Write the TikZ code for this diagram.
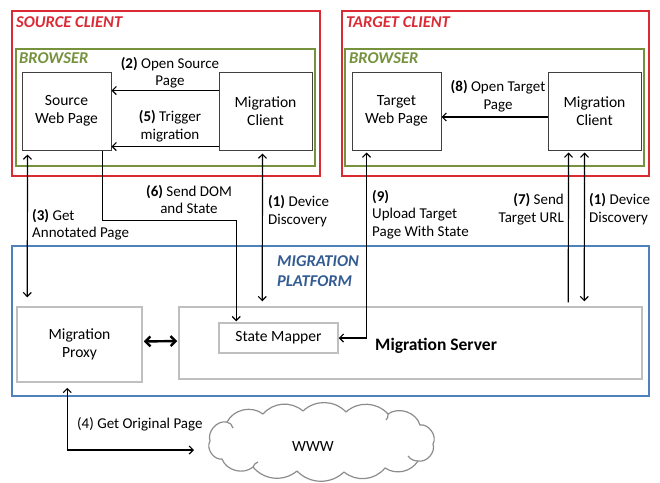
\documentclass[tikz,border=0pt]{standalone}
\usepackage{fontspec}
\setmainfont{Carlito}
\usetikzlibrary{arrows.meta}
\definecolor{cred}{RGB}{218,42,52}
\definecolor{cgreen}{RGB}{118,146,60}
\definecolor{cblue}{RGB}{79,129,189}
\definecolor{ctblue}{RGB}{50,92,146}
\definecolor{cgray}{RGB}{191,191,191}
\definecolor{cdark}{RGB}{64,64,64}
\definecolor{ccloud}{RGB}{140,140,140}
\tikzset{
  redbox/.style={draw=cred, line width=1.3pt, inner sep=0pt},
  greenbox/.style={draw=cgreen, line width=1.3pt, inner sep=0pt},
  bluebox/.style={draw=cblue, line width=1.3pt, inner sep=0pt},
  pagebox/.style={draw=cdark, line width=1pt, fill=white, inner sep=0pt, align=center, font=\fontsize{15.6}{18}\selectfont},
  graybox/.style={draw=cgray, line width=1.5pt, fill=white, inner sep=0pt, align=center, font=\fontsize{15.6}{18}\selectfont},
  titletext/.style={inner sep=0pt, anchor=west, font=\fontsize{16.5}{20}\selectfont\bfseries\itshape},
  lbl/.style={inner sep=0pt, font=\fontsize{15}{17.5}\selectfont},
  conn/.style={line width=1.2pt, black, arrows={-}, >={Straight Barb[length=4pt,width=8pt,line width=1.2pt]}},
  puff/.style={draw=ccloud, line width=1.2pt, line join=round},
}
\begin{document}
\begin{tikzpicture}[x=1pt,y=-1pt]
\useasboundingbox (0,0) rectangle (660,482);
% client frames
\node[redbox, minimum width=308, minimum height=165] (srcclient) at (166,93.5) {};
\node[redbox, minimum width=307, minimum height=165] (tgtclient) at (495.5,93.5) {};
\node[titletext, text=cred] (srct) at (16,22) {SOURCE CLIENT};
\node[titletext, text=cred] (tgtt) at (346,22) {TARGET CLIENT};
\node[greenbox, minimum width=299, minimum height=117] (srcbrowser) at (165.5,107.5) {};
\node[greenbox, minimum width=299, minimum height=117] (tgtbrowser) at (494.5,107.5) {};
\node[titletext, text=cgreen] (srcbt) at (19,58) {BROWSER};
\node[titletext, text=cgreen] (tgtbt) at (349,58) {BROWSER};
\node[pagebox, minimum width=89, minimum height=78] (swp) at (66.5,111) {Source\\Web Page};
\node[pagebox, minimum width=93, minimum height=78] (mc1) at (265.5,111) {Migration\\Client};
\node[pagebox, minimum width=89, minimum height=78] (twp) at (396.5,111) {Target\\Web Page};
\node[pagebox, minimum width=93, minimum height=78] (mc2) at (594.5,111) {Migration\\Client};
% platform
\node[bluebox, minimum width=637, minimum height=150] (platform) at (330.5,321) {};
\node[titletext, text=ctblue, align=left] (platt) at (277,271) {MIGRATION\\PLATFORM};
\node[graybox, minimum width=125, minimum height=75] (proxy) at (79.5,344.5) {Migration\\Proxy};
\node[graybox, minimum width=463, minimum height=72] (server) at (410.5,343) {};
\node[inner sep=0pt, anchor=west, font=\fontsize{17.5}{20}\selectfont\bfseries] (servert) at (375,346) {Migration Server};
\node[graybox, minimum width=119, minimum height=30] (sm) at (278.5,338) {State Mapper};
% cloud
\draw[puff] (210,441) to[bend left=60] (227,422) to[bend left=50] (263,414)
  to[bend left=45] (303,411) to[bend left=45] (346,412) to[bend left=45] (388,414)
  to[bend left=55] (420,425) to[bend left=65] (433,444) to[bend left=60] (418,461)
  to[bend left=45] (385,468) to[bend left=45] (344,472) to[bend left=45] (297,471)
  to[bend left=45] (253,467) to[bend left=55] (222,459) to[bend left=65] cycle;
\draw[puff] (227,422) to[bend left=30] (233,428);
\draw[puff] (388,414) to[bend left=25] (386,420);
\draw[puff] (418,461) to[bend left=25] (408,456);
\draw[puff] (253,467) to[bend left=25] (258,462);
\node[inner sep=0pt, font=\fontsize{15.6}{18}\selectfont] (www) at (313,446) {WWW};
\coordinate (cloudw) at (194,450);
% browser arrows
\draw[conn,->] ([yshift=-19pt]mc1.north west) -- ([yshift=-19pt]swp.north east);
\draw[conn,->] ([yshift=4pt]mc1.south west) -- ([yshift=4pt]swp.south east);
\draw[conn,->] (mc2.west |- 0,117) -- (twp.east |- 0,117);
\node[lbl, align=center] (l2) at (170,72.5) {\textbf{(2)} Open Source\\Page};
\node[lbl, align=center] (l5) at (170,126) {\textbf{(5)} Trigger\\migration};
\node[lbl, align=center] (l8) at (498,96) {\textbf{(8)} Open Target\\Page};
% vertical connectors
\draw[conn,<->] ([shift={(6,4)}]swp.south west) -- ([shift={(11,-9)}]proxy.north west);
\draw[conn,->] ([shift={(81,0)}]swp.south west) |- ([shift={(18,-102)}]sm.north west) -- ([shift={(18,-1)}]sm.north west);
\draw[conn,<->] ([shift={(44,3)}]mc1.south west) -- ([shift={(84,-5)}]server.north west);
\draw[conn,<->] ([shift={(15,2)}]twp.south west) |- (sm.east);
\draw[conn,->] ([shift={(390,-4)}]server.north west) -- ([shift={(21,2)}]mc2.south west);
\draw[conn,<->] ([shift={(37,2)}]mc2.south west) -- ([shift={(406,-5)}]server.north west);
\draw[line width=2.4pt, {Straight Barb[length=5pt,width=10pt]}-{Straight Barb[length=5pt,width=10pt]}] ([shift={(1,-3)}]proxy.east) -- ([shift={(-1,-2)}]server.west);
\draw[conn,<->] ([shift={(51,5)}]proxy.south west) |- (cloudw);
% connector labels
\node[lbl, align=left, anchor=west] (l3) at (32,224.5) {\textbf{(3)} Get\\Annotated Page};
\node[lbl, align=center] (l6) at (189,199.5) {\textbf{(6)} Send DOM\\and State};
\node[lbl, align=left, anchor=west] (l1a) at (268,211) {\textbf{(1)} Device\\Discovery};
\node[lbl, align=left, anchor=west] (l9) at (372,214.5) {\textbf{(9)}\\Upload Target\\Page With State};
\node[lbl, align=right, anchor=east] (l7) at (564,209) {\textbf{(7)} Send\\Target URL};
\node[lbl, align=left, anchor=west] (l1b) at (589,209) {\textbf{(1)} Device\\Discovery};
\node[lbl, anchor=west] (l4) at (77,424) {(4) Get Original Page};
\end{tikzpicture}
\end{document}
